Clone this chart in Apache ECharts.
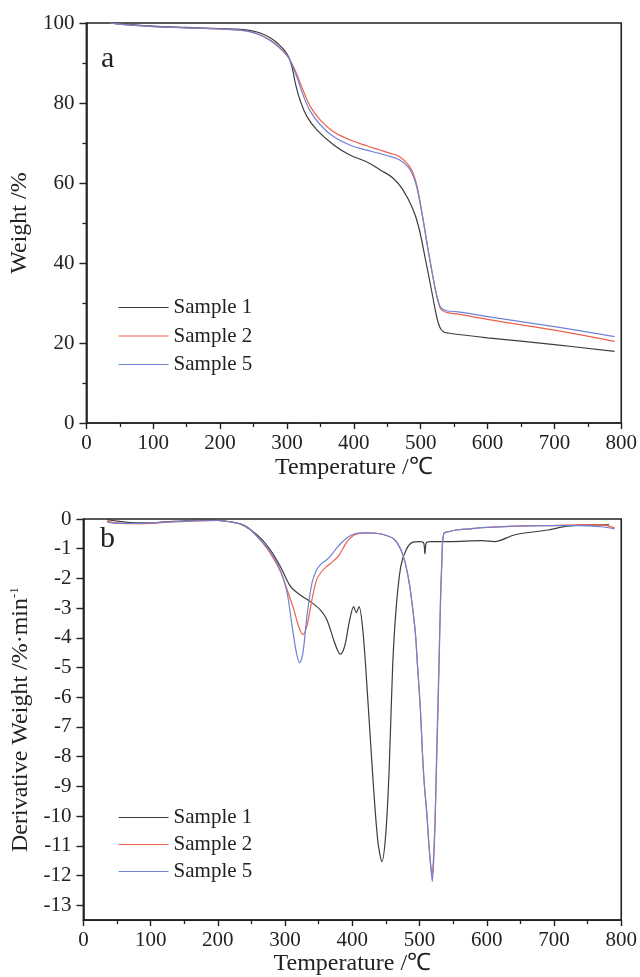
<!DOCTYPE html>
<html>
<head>
<meta charset="utf-8">
<script src="https://cdn.jsdelivr.net/npm/echarts@6/dist/echarts.min.js"></script>
<style>
html,body{margin:0;padding:0;background:#fff;}
#chart{width:640px;height:977px;}
</style>
</head>
<body>
<div id="chart"></div>
<script>
// ---------- Data ----------
const seriesNames = ['Sample 1', 'Sample 2', 'Sample 5'];
const xTicks = [0, 100, 200, 300, 400, 500, 600, 700, 800];
const weightTicks = [0, 20, 40, 60, 80, 100];
const derivTicks = [0, -1, -2, -3, -4, -5, -6, -7, -8, -9, -10, -11, -12, -13];

// (a) TGA weight curves
const tgaTemp1 = [35, 50, 100, 150, 200, 230, 246, 260, 276, 288, 296, 303, 308, 313, 320, 330, 345, 370, 394, 419, 440, 458, 473, 488, 497, 507, 517, 524, 529, 534, 540, 600, 700, 790];
const tgaWeight1 = [100, 99.8, 99.2, 98.9, 98.6, 98.4, 98.1, 97.5, 96.2, 94.6, 93.2, 91.3, 88.7, 84.6, 80.5, 76.6, 73.2, 69.5, 67.0, 65.3, 63.2, 61.3, 58.4, 53.6, 49.0, 41.0, 32.5, 26.5, 23.8, 22.8, 22.5, 21.3, 19.6, 17.9];

const tgaTemp2 = [35, 50, 100, 150, 200, 230, 246, 260, 276, 288, 296, 303, 309, 315.5, 325, 335, 350, 369.5, 394, 419, 438, 455, 468, 483, 492.5, 502, 512, 522, 527, 531, 540, 556, 600, 700, 790];
const tgaWeight2 = [100, 99.7, 99.1, 98.8, 98.5, 98.2, 97.8, 97.0, 95.6, 94.0, 92.8, 91.2, 89.3, 86.9, 82.8, 79.1, 75.7, 72.8, 70.8, 69.3, 68.3, 67.4, 66.6, 64.2, 60.5, 52.5, 42.5, 33.3, 29.8, 28.3, 27.6, 27.2, 25.9, 23.2, 20.4];

const tgaTemp5 = [35, 50, 100, 150, 200, 230, 246, 260, 276, 288, 296, 303, 309, 315.5, 325, 335, 350, 369.5, 394, 419, 438, 455, 468, 483, 492.5, 502, 512, 522, 527, 531, 540, 556, 600, 700, 790];
const tgaWeight5 = [100, 99.7, 99.1, 98.8, 98.5, 98.2, 97.8, 97.0, 95.5, 93.9, 92.6, 91.2, 88.9, 86.2, 81.6, 77.9, 74.5, 71.6, 69.5, 68.2, 67.4, 66.6, 65.8, 63.6, 60.0, 52.2, 42.4, 33.4, 30.1, 28.7, 28.0, 27.8, 26.6, 24.1, 21.6];

// (b) DTG derivative curves
const dtgTemp1 = [35, 45, 60, 80, 100, 120, 150, 180, 200, 220, 235, 249, 264, 278, 293, 308, 322, 337, 352, 362, 372, 378, 382, 386, 390, 396, 402, 406, 410, 416, 423, 431, 438, 444, 450, 455, 460, 465, 472, 480, 490, 500, 506, 508, 510, 516, 544, 593, 612, 642, 691, 720, 760, 782];
const dtgDeriv1 = [-0.02, -0.05, -0.1, -0.13, -0.13, -0.1, -0.06, -0.04, -0.05, -0.1, -0.18, -0.37, -0.65, -1.04, -1.6, -2.27, -2.55, -2.77, -3.05, -3.38, -4.05, -4.42, -4.55, -4.45, -4.15, -3.4, -2.95, -3.15, -2.95, -3.83, -6.06, -8.85, -10.86, -11.53, -10.53, -8.3, -4.95, -3.05, -1.6, -1.04, -0.78, -0.76, -0.8, -1.17, -0.8, -0.76, -0.76, -0.73, -0.76, -0.53, -0.37, -0.24, -0.2, -0.2];

const dtgTemp2 = [35, 50, 70, 100, 130, 160, 200, 225, 240, 249, 263, 278, 293, 303, 313, 320, 326.6, 332.5, 340, 347, 355, 362, 370, 379, 386, 392, 400, 406, 420, 436, 455, 463, 470, 475, 480, 485, 490, 494, 497, 501, 504, 507, 511, 514, 517, 518.5, 520, 522, 524, 527, 529, 531, 533, 536, 545, 554, 575, 593, 642, 691, 735, 770, 790];
const dtgDeriv2 = [-0.08, -0.13, -0.16, -0.15, -0.1, -0.07, -0.05, -0.12, -0.22, -0.37, -0.7, -1.15, -1.77, -2.38, -3.05, -3.6, -3.89, -3.6, -2.71, -2.04, -1.75, -1.6, -1.45, -1.26, -1.0, -0.76, -0.58, -0.51, -0.47, -0.48, -0.59, -0.7, -0.93, -1.2, -1.6, -2.2, -3.05, -3.9, -4.95, -6.3, -7.74, -8.9, -9.97, -11.0, -11.76, -11.98, -11.7, -10.8, -9.4, -6.8, -4.95, -3.0, -1.6, -0.48, -0.42, -0.37, -0.33, -0.29, -0.24, -0.22, -0.2, -0.2, -0.3];

const dtgTemp5 = [35, 50, 70, 100, 130, 160, 200, 225, 240, 249, 263, 278, 293, 303, 310.4, 316.8, 321.7, 326.6, 332.5, 340, 347, 354, 362, 370, 376.6, 384, 391.5, 398, 406, 420, 436, 455, 463, 470, 475, 480, 485, 490, 494, 497, 501, 504, 507, 511, 514, 517, 519, 521, 523, 525, 527, 529, 531, 533, 536, 545, 554, 575, 593, 642, 691, 735, 770, 790];
const dtgDeriv5 = [-0.1, -0.15, -0.15, -0.13, -0.1, -0.06, -0.05, -0.12, -0.22, -0.37, -0.7, -1.1, -1.72, -2.49, -3.6, -4.5, -4.84, -4.5, -3.27, -2.15, -1.71, -1.5, -1.37, -1.18, -0.98, -0.8, -0.65, -0.55, -0.48, -0.47, -0.48, -0.59, -0.7, -0.93, -1.2, -1.6, -2.2, -3.05, -3.9, -4.95, -6.3, -7.74, -8.9, -9.97, -11.0, -11.76, -12.2, -11.5, -10.3, -8.3, -6.5, -4.7, -2.8, -1.5, -0.5, -0.42, -0.37, -0.33, -0.29, -0.24, -0.22, -0.22, -0.26, -0.33];

// ---------- Styles ----------
const FONT = '"Liberation Serif", "Times New Roman", serif';
const INK = '#222';
const colors = ['#3c3c3c', '#ef5f4a', '#6f82d6'];

function pairs(xs, ys) { return xs.map((x, i) => [x, ys[i]]); }

function xAxisCfg(gridIndex, gap) {
  return {
    type: 'value', gridIndex: gridIndex, min: 0, max: 800, interval: 100,
    axisLine: { show: true, onZero: false, lineStyle: { color: INK, width: 1.6 } },
    axisTick: { show: true, length: 6, lineStyle: { color: INK, width: 1.4 } },
    minorTick: { show: true, splitNumber: 2, length: 4, lineStyle: { color: INK, width: 1.3 } },
    splitLine: { show: false },
    axisLabel: { fontFamily: FONT, fontSize: 21, color: INK, margin: 10 },
    name: 'Temperature /℃', nameLocation: 'middle', nameGap: gap,
    nameTextStyle: { fontFamily: FONT, fontSize: 24, color: INK }
  };
}

function legendCfg(top, gap) {
  return {
    left: 118, top: top, orient: 'vertical', padding: 0,
    itemWidth: 50, itemHeight: 14, itemGap: gap,
    data: seriesNames, selectedMode: false,
    itemStyle: { opacity: 0 },
    lineStyle: { width: 1.2 },
    textStyle: { fontFamily: FONT, fontSize: 21, color: INK }
  };
}

const chart = echarts.init(document.getElementById('chart'), null, { renderer: 'canvas' });

const lineSeries = (name, idx, data, axisIndex, smooth) => ({
  name: name, type: 'line', xAxisIndex: axisIndex, yAxisIndex: axisIndex,
  data: data, symbol: 'none', smooth: smooth,
  lineStyle: { color: colors[idx], width: 1.2 }, itemStyle: { color: colors[idx] },
  animation: false, z: 2 + idx
});

chart.setOption({
  backgroundColor: '#fff',
  animation: false,
  grid: [
    { left: 83, top: 23, width: 542, height: 400, show: true, borderColor: INK, borderWidth: 1.6, backgroundColor: 'transparent' },
    { left: 81, top: 519, width: 543, height: 403, show: true, borderColor: INK, borderWidth: 1.6, backgroundColor: 'transparent' }
  ],
  xAxis: [xAxisCfg(0, 33), xAxisCfg(1, 31)],
  yAxis: [
    {
      type: 'value', gridIndex: 0, min: 0, max: 100, interval: 20,
      axisLine: { show: true, onZero: false, lineStyle: { color: INK, width: 1.6 } },
      axisTick: { show: true, length: 7, lineStyle: { color: INK, width: 1.4 } },
      minorTick: { show: true, splitNumber: 2, length: 4, lineStyle: { color: INK, width: 1.3 } },
      splitLine: { show: false },
      axisLabel: { fontFamily: FONT, fontSize: 21, color: INK, margin: 12 },
      name: 'Weight /%', nameLocation: 'middle', nameGap: 46,
      nameTextStyle: { fontFamily: FONT, fontSize: 24, color: INK }
    },
    {
      type: 'value', gridIndex: 1, min: -13.5, max: 0,
      axisLine: { show: true, onZero: false, lineStyle: { color: INK, width: 1.6 } },
      axisTick: { show: true, length: 7, customValues: derivTicks, lineStyle: { color: INK, width: 1.4 } },
      splitLine: { show: false },
      axisLabel: { fontFamily: FONT, fontSize: 21, color: INK, margin: 12, customValues: derivTicks },
      name: 'Derivative Weight /%·min{sup|-1}', nameLocation: 'middle', nameGap: 42,
      nameTextStyle: { fontFamily: FONT, fontSize: 24, color: INK,
        rich: { sup: { fontFamily: FONT, fontSize: 13, color: INK, verticalAlign: 'top', padding: [0, 0, 12, 0] } } }
    }
  ],
  legend: [legendCfg(297, 7.5), legendCfg(807, 6)],
  graphic: [
    { type: 'text', left: 101, top: 44, style: { text: 'a', font: '30px "Liberation Serif"', fill: INK } },
    { type: 'text', left: 100, top: 524, style: { text: 'b', font: '30px "Liberation Serif"', fill: INK } }
  ],
  series: [
    lineSeries(seriesNames[0], 0, pairs(tgaTemp1, tgaWeight1), 0, 0.4),
    lineSeries(seriesNames[1], 1, pairs(tgaTemp2, tgaWeight2), 0, 0.4),
    lineSeries(seriesNames[2], 2, pairs(tgaTemp5, tgaWeight5), 0, 0.4),
    lineSeries(seriesNames[0], 0, pairs(dtgTemp1, dtgDeriv1), 1, 0.3),
    lineSeries(seriesNames[1], 1, pairs(dtgTemp2, dtgDeriv2), 1, 0.3),
    lineSeries(seriesNames[2], 2, pairs(dtgTemp5, dtgDeriv5), 1, 0.3)
  ]
});
</script>
</body>
</html>
